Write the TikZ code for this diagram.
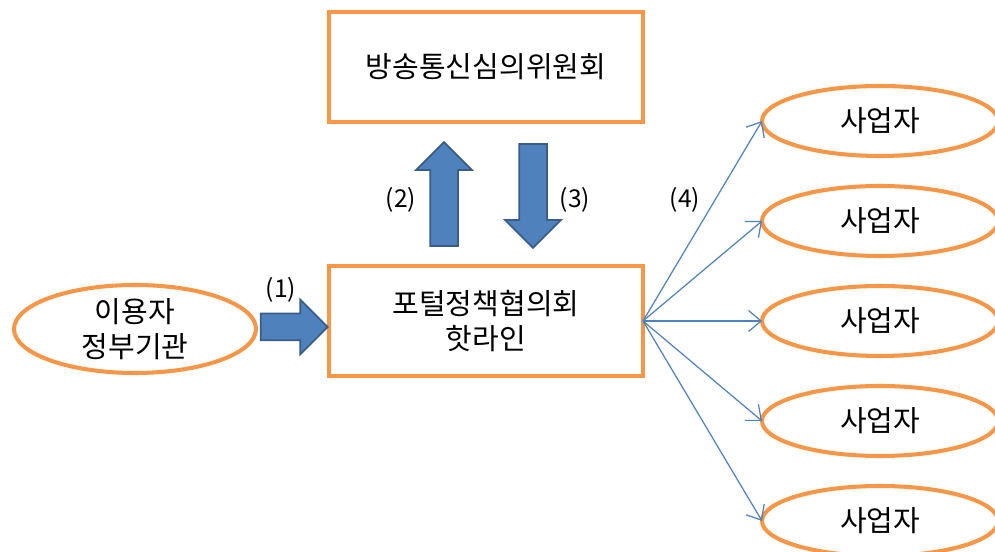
\documentclass[tikz,border=0pt]{standalone}
\usepackage{xcolor}
\usepackage{tikz}
\usepackage{fontspec}
\setmainfont{Noto Sans CJK KR}
\usetikzlibrary{shapes.geometric, shapes.arrows, arrows.meta, positioning, calc}
\definecolor{frameorange}{HTML}{F79646}
\definecolor{flowblue}{HTML}{4F81BD}
\definecolor{flowdark}{HTML}{385D8A}

\begin{document}
\begin{tikzpicture}[
    board/.style={rectangle, draw=frameorange, line width=2.3pt, fill=white, minimum width=6.28cm, minimum height=2.2cm, outer sep=0pt, align=center, font=\fontsize{16.5}{20}\selectfont},
    party/.style={ellipse, draw=frameorange, line width=2.3pt, fill=white, minimum width=4.84cm, minimum height=1.76cm, inner sep=0pt, outer sep=0pt, align=center, font=\fontsize{16.5}{20}\selectfont},
    firm/.style={party, minimum width=4.72cm, minimum height=1.4cm},
    bigarrow/.style={single arrow, draw=flowdark, fill=flowblue, line width=1pt, single arrow head extend=0.28cm, inner sep=0.26cm, minimum width=1.08cm},
    step label/.style={font=\fontsize{14}{16}\selectfont},
    fan/.style={draw=flowblue, line width=0.7pt, -{Straight Barb[length=0.25cm, width=0.42cm]}}
]
\useasboundingbox (0,0) rectangle (19.9,11.04);

% Nodes
\node[board] (hotline) at (9.72,4.62) {포털정책협의회\\핫라인};
\node[board, above=2.88cm of hotline] (kcsc) {방송통신심의위원회};
\node[party, left=1.46cm of hotline, yshift=-0.16cm] (user) {이용자\\정부기관};

% Business nodes
\node[firm, right=2.38cm of hotline] (biz3) {사업자};
\node[firm, above=0.6cm of biz3] (biz2) {사업자};
\node[firm, above=0.6cm of biz2] (biz1) {사업자};
\node[firm, below=0.6cm of biz3] (biz4) {사업자};
\node[firm, below=0.6cm of biz4] (biz5) {사업자};

% Block arrows
\node[bigarrow, minimum height=1.34cm, inner sep=0.25cm] (report) at (5.75,4.5) {};
\node[bigarrow, rotate=90, minimum height=2.08cm] (ask) at (8.88,7.02) {};
\node[bigarrow, rotate=-90, minimum height=2.08cm] (answer) at (10.66,7.26) {};

% Step labels
\node[step label] (s1) at (5.62,5.24) {(1)};
\node[step label] (s2) at (8.02,7.04) {(2)};
\node[step label] (s3) at (11.5,7.04) {(3)};
\node[step label] (s4) at (13.7,7.04) {(4)};

% Arrows
\foreach \b in {biz1,biz2,biz3,biz4,biz5}
    \draw[fan] (hotline.east) -- (\b.west);

\end{tikzpicture}
\end{document}
